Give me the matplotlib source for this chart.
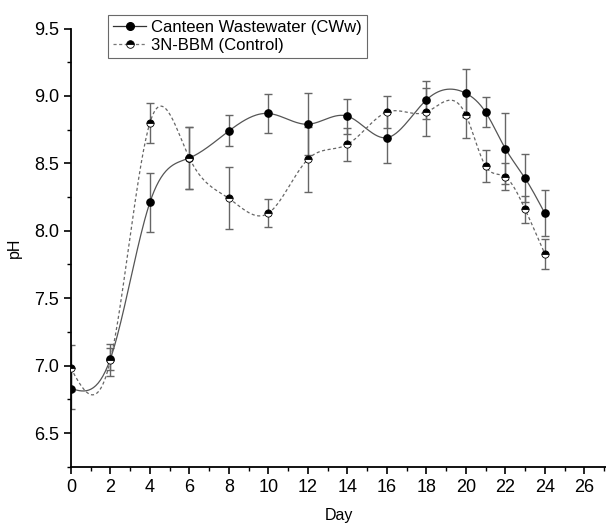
import numpy as np
import matplotlib
matplotlib.use("Agg")
import matplotlib.pyplot as plt
from matplotlib.ticker import MultipleLocator

plt.rcParams['font.family'] = ['Liberation Sans', 'DejaVu Sans']

# sampling days and pH readings (mean and standard deviation)
days = [0, 2, 4, 6, 8, 10, 12, 14, 16, 18, 20, 21, 22, 23, 24]
cww_ph = [6.83, 7.05, 8.21, 8.54, 8.74, 8.87, 8.79, 8.85, 8.69, 8.97, 9.02, 8.88, 8.61, 8.39, 8.13]
cww_sd = [0.15, 0.08, 0.22, 0.23, 0.115, 0.145, 0.23, 0.13, 0.19, 0.14, 0.18, 0.11, 0.26, 0.18, 0.17]
bbm_ph = [6.98, 7.04, 8.80, 8.54, 8.24, 8.13, 8.53, 8.64, 8.88, 8.88, 8.86, 8.48, 8.40, 8.16, 7.83]
bbm_sd = [0.17, 0.12, 0.15, 0.23, 0.23, 0.105, 0.24, 0.125, 0.12, 0.18, 0.17, 0.12, 0.10, 0.10, 0.11]


def natural_spline(x, y, n=400):
    # natural cubic spline through the points, for the smooth connecting curve
    x = np.asarray(x, float)
    y = np.asarray(y, float)
    k = len(x)
    h = np.diff(x)
    A = np.zeros((k, k))
    b = np.zeros(k)
    A[0, 0] = 1
    A[-1, -1] = 1
    for i in range(1, k - 1):
        A[i, i - 1] = h[i - 1]
        A[i, i] = 2 * (h[i - 1] + h[i])
        A[i, i + 1] = h[i]
        b[i] = 6 * ((y[i + 1] - y[i]) / h[i] - (y[i] - y[i - 1]) / h[i - 1])
    m = np.linalg.solve(A, b)
    xs = np.linspace(x[0], x[-1], n)
    idx = np.clip(np.searchsorted(x, xs) - 1, 0, k - 2)
    x0, x1 = x[idx], x[idx + 1]
    hh = x1 - x0
    t0 = x1 - xs
    t1 = xs - x0
    ys = (m[idx] * t0 ** 3 + m[idx + 1] * t1 ** 3) / (6 * hh) \
        + (y[idx] / hh - m[idx] * hh / 6) * t0 \
        + (y[idx + 1] / hh - m[idx + 1] * hh / 6) * t1
    return xs, ys


fig = plt.figure(figsize=(6.06, 5.27), dpi=100)
ax = fig.add_axes([0.117, 0.1144, 0.883, 0.8315])

err_kw = dict(fmt='none', ecolor='#666666', elinewidth=1.0, capsize=2.8, capthick=1.0)
ax.errorbar(days, cww_ph, yerr=cww_sd, **err_kw)
ax.errorbar(days, bbm_ph, yerr=bbm_sd, **err_kw)

xs, ys = natural_spline(days, cww_ph)
ax.plot(xs, ys, color='#555555', lw=0.9)
xs, ys = natural_spline(days, bbm_ph)
ax.plot(xs, ys, color='#666666', lw=0.9, ls=(0, (2.5, 2)))

ax.plot(days, cww_ph, 'o', color='black', ms=5.2, zorder=5)
ax.plot(days, bbm_ph, 'o', color='black', ms=5.2, mfc='black', mfcalt='white',
        fillstyle='top', mec='black', mew=0.6, zorder=5)

# legend handles: line plus marker
h1, = ax.plot([], [], '-o', color='#333333', lw=0.9, ms=5.5, mfc='black', mec='black')
h2, = ax.plot([], [], 'o', color='#777777', ls=(0, (2.5, 2)), lw=0.9, ms=5.5,
              mfc='black', mfcalt='white', fillstyle='top', mec='black', mew=0.6)
leg = fig.legend([h1, h2], ['Canteen Wastewater (CWw)', '3N-BBM (Control)'],
                 loc='upper left', bbox_to_anchor=(0.178, 0.972), fontsize=12,
                 frameon=True, fancybox=False, handlelength=2.0, handletextpad=0.3,
                 borderpad=0.3, labelspacing=0.2, borderaxespad=0)
leg.get_frame().set_edgecolor('#444444')
leg.get_frame().set_linewidth(0.8)

ax.set_xlim(0, 27.1)
ax.set_ylim(6.25, 9.5)
ax.xaxis.set_major_locator(MultipleLocator(2))
ax.xaxis.set_minor_locator(MultipleLocator(1))
ax.yaxis.set_major_locator(MultipleLocator(0.5))
ax.yaxis.set_minor_locator(MultipleLocator(0.25))
ax.yaxis.set_major_formatter(matplotlib.ticker.FormatStrFormatter('%.1f'))
ax.tick_params(which='major', direction='out', length=5, width=1.2, labelsize=13)
ax.tick_params(which='minor', direction='out', length=3, width=1.0)

for side in ['top', 'right']:
    ax.spines[side].set_visible(False)
for side in ['left', 'bottom']:
    ax.spines[side].set_linewidth(1.3)

ax.set_xlabel('Day', fontsize=11.5, labelpad=9)
ax.set_ylabel('pH', fontsize=11.5, labelpad=9)

fig.savefig('out.png', dpi=100)
